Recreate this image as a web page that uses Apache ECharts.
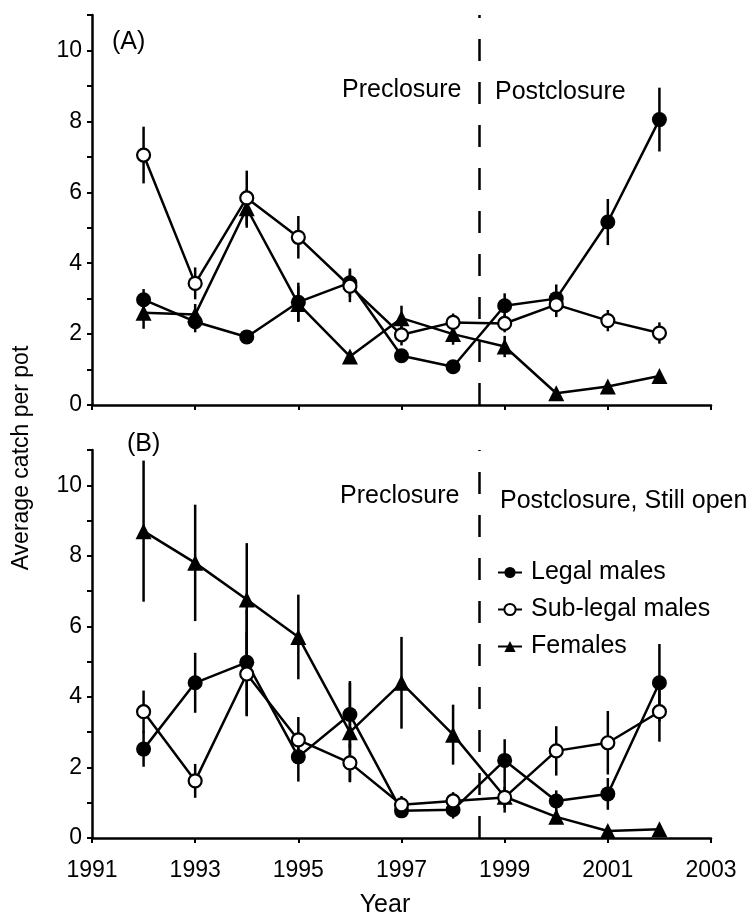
<!DOCTYPE html>
<html>
<head>
<meta charset="utf-8">
<script src="https://cdn.jsdelivr.net/npm/echarts@6/dist/echarts.min.js"></script>
<style>
  html, body { margin: 0; padding: 0; background: #fff; }
  #chart { width: 750px; height: 918px; }
</style>
</head>
<body>
<div id="chart"></div>
<script>
// survey years
const years = [1992, 1993, 1994, 1995, 1996, 1997, 1998, 1999, 2000, 2001, 2002]
const closureYear = 1998.5

// panel (A)
const legalA = [2.97, 2.35, 1.92, 2.9, 3.45, 1.39, 1.08, 2.8, 3.0, 5.16, 8.05]
const legalAErr = [0.3, 0.3, 0.15, 0.55, 0.4, 0.15, 0.15, 0.35, 0.4, 0.65, 0.9]
const subA = [7.05, 3.43, 5.84, 4.73, 3.35, 1.98, 2.33, 2.3, 2.83, 2.38, 2.03]
const subAErr = [0.8, 0.45, 0.77, 0.6, 0.45, 0.3, 0.25, 0.25, 0.35, 0.3, 0.3]
const femA = [2.6, 2.55, 5.55, 2.85, 1.37, 2.45, 2.0, 1.65, 0.33, 0.52, 0.82]
const femAErr = [0.45, 0.3, 0.55, 0.5, 0.15, 0.35, 0.3, 0.3, 0.1, 0.1, 0.1]

// panel (B)
const legalB = [2.52, 4.4, 4.98, 2.3, 3.5, 0.77, 0.8, 2.2, 1.05, 1.25, 4.4]
const legalBErr = [0.5, 0.85, 1.5, 0.7, 0.95, 0.2, 0.25, 0.6, 0.3, 0.45, 1.1]
const subB = [3.58, 1.62, 4.65, 2.78, 2.13, 0.94, 1.05, 1.15, 2.47, 2.7, 3.58]
const subBErr = [0.6, 0.48, 1.2, 0.65, 0.55, 0.25, 0.25, 0.3, 0.7, 0.9, 0.85]
const femB = [8.7, 7.8, 6.76, 5.7, 3.0, 4.4, 2.93, 1.17, 0.6, 0.2, 0.25]
const femBErr = [2.0, 1.65, 1.6, 1.2, 1.4, 1.3, 0.85, 0.45, 0.2, 0.05, 0.05]

const FONT = '"Liberation Sans", Arial, Helvetica, sans-serif'
const INK = '#000'

const chart = echarts.init(document.getElementById('chart'))

const pts = vals => years.map((y, i) => [y, vals[i]])
const errPts = (vals, errs) => years.map((y, i) => [y, vals[i] - errs[i], vals[i] + errs[i]])

// vertical error bars, drawn through the axis scales
const errSeries = (name, vals, errs, idx) => ({
    name: name,
    type: 'custom',
    xAxisIndex: idx,
    yAxisIndex: idx,
    z: 1,
    silent: true,
    encode: { x: 0, y: [1, 2] },
    data: errPts(vals, errs),
    renderItem: (params, api) => {
        const a = api.coord([api.value(0), api.value(1)])
        const b = api.coord([api.value(0), api.value(2)])
        return {
            type: 'line',
            shape: { x1: a[0], y1: a[1], x2: b[0], y2: b[1] },
            style: { stroke: INK, lineWidth: 2.5 }
        }
    }
})

const markers = {
    'Legal males': { symbol: 'circle', symbolSize: 15, itemStyle: { color: INK, borderColor: INK, borderWidth: 0 } },
    'Sub-legal males': { symbol: 'circle', symbolSize: 13, itemStyle: { color: '#fff', borderColor: INK, borderWidth: 2.2 } },
    'Females': { symbol: 'triangle', symbolSize: 16, itemStyle: { color: INK, borderColor: INK, borderWidth: 0 } }
}

const lineSeries = (name, vals, idx, withClosure) => {
    const s = {
        name: name,
        type: 'line',
        xAxisIndex: idx,
        yAxisIndex: idx,
        z: 3,
        data: pts(vals),
        symbol: markers[name].symbol,
        symbolSize: markers[name].symbolSize,
        itemStyle: markers[name].itemStyle,
        lineStyle: { color: INK, width: 2.5 },
        showAllSymbol: true,
        animation: false
    }
    if (withClosure) {
        s.markLine = {
            silent: true,
            symbol: 'none',
            label: { show: false },
            lineStyle: { color: INK, width: 2.5, type: [22, 21] },
            data: [{ xAxis: closureYear }]
        }
    }
    return s
}

const xAxisBase = (idx, showLabels) => ({
    type: 'value',
    gridIndex: idx,
    min: 1991,
    max: 2003,
    interval: 2,
    splitLine: { show: false },
    axisLine: { lineStyle: { color: INK, width: 2.5 } },
    axisTick: { length: 5, lineStyle: { color: INK, width: 2 } },
    axisLabel: {
        show: showLabels, color: INK, fontFamily: FONT, fontSize: 23, margin: 21,
        formatter: v => String(v)
    }
})

const yAxisBase = idx => ({
    type: 'value',
    gridIndex: idx,
    min: 0,
    max: 11,
    interval: 1,
    splitLine: { show: false },
    axisLine: { show: true, lineStyle: { color: INK, width: 2.5 } },
    axisTick: { show: true, length: 5, lineStyle: { color: INK, width: 2 } },
    axisLabel: {
        color: INK, fontFamily: FONT, fontSize: 23, margin: 10,
        formatter: v => (v % 2 === 0 ? String(v) : '')
    }
})

const txt = (text, x, y, extra) => ({
    type: 'text',
    x: x,
    y: y,
    silent: true,
    style: Object.assign({ text: text, fill: INK, font: '25px ' + FONT, textVerticalAlign: 'middle' }, extra || {})
})

const option = {
    backgroundColor: '#fff',
    animation: false,
    grid: [
        { left: 92, top: 15, width: 619, height: 390 },
        { left: 92, top: 450, width: 619, height: 388 }
    ],
    xAxis: [xAxisBase(0, false), xAxisBase(1, true)],
    yAxis: [yAxisBase(0), yAxisBase(1)],
    legend: {
        data: ['Legal males', 'Sub-legal males', 'Females'],
        orient: 'vertical',
        left: 492,
        top: 555,
        itemWidth: 24,
        itemHeight: 14,
        itemGap: 12,
        selectedMode: false,
        textStyle: { color: INK, fontFamily: FONT, fontSize: 25, padding: [0, 0, 0, 4] }
    },
    graphic: [
        txt('(A)', 112, 42),
        txt('Preclosure', 342, 90),
        txt('Postclosure', 495, 92),
        txt('(B)', 127, 444),
        txt('Preclosure', 340, 496),
        txt('Postclosure, Still open', 500, 501),
        txt('Year', 385, 905, { textAlign: 'center' }),
        {
            type: 'text',
            x: 22,
            y: 458,
            rotation: Math.PI / 2,
            silent: true,
            style: { text: 'Average catch per pot', fill: INK, font: '23px ' + FONT, textAlign: 'center', textVerticalAlign: 'middle' }
        }
    ],
    series: [
        errSeries('errLegalA', legalA, legalAErr, 0),
        errSeries('errSubA', subA, subAErr, 0),
        errSeries('errFemA', femA, femAErr, 0),
        errSeries('errLegalB', legalB, legalBErr, 1),
        errSeries('errSubB', subB, subBErr, 1),
        errSeries('errFemB', femB, femBErr, 1),
        lineSeries('Legal males', legalA, 0, true),
        lineSeries('Females', femA, 0, false),
        lineSeries('Sub-legal males', subA, 0, false),
        lineSeries('Legal males', legalB, 1, true),
        lineSeries('Females', femB, 1, false),
        lineSeries('Sub-legal males', subB, 1, false)
    ]
}

chart.setOption(option)
</script>
</body>
</html>
